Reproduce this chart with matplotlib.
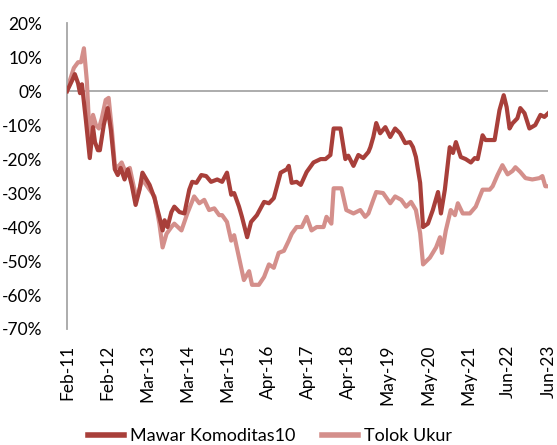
import matplotlib
matplotlib.use("Agg")
import matplotlib.pyplot as plt
import numpy as np

plt.rcParams['font.family'] = ['Lato', 'DejaVu Sans']

# months since Feb-2011 and cumulative return (%)
mawar_month = [0, 1.5, 2.4, 3.4, 4.0, 4.6, 5.8, 7.0, 8.0, 8.6, 9.5, 10.1, 11.3, 12.5, 13.5,
               14.7, 15.6, 16.5, 17.7, 18.7, 19.9, 21.1, 22.3, 23.2, 25.4, 26.9, 28.4, 29.4,
               30.0, 30.9, 32.1, 33.0, 34.6, 36.1, 37.6, 38.5, 39.8, 41.3, 42.8, 44.3, 46.2,
               47.7, 49.2, 50.5, 51.4, 52.9, 53.8, 55.4, 56.6, 58.4, 60.6, 62.1, 63.6, 65.7,
               67.6, 68.2, 69.1, 70.6, 71.9, 73.7, 75.8, 78.0, 79.5, 81.0, 82.0, 84.1, 85.6,
               86.5, 88.1, 89.6, 91.1, 92.7, 93.3, 94.2, 95.1, 96.3, 97.9, 99.4, 100.9, 102.4,
               104.0, 105.5, 106.4, 107.3, 108.6, 109.5, 111.0, 112.5, 114.1, 115.0, 116.2,
               117.7, 118.7, 119.6, 121.1, 122.6, 124.2, 125.4, 126.3, 127.8, 128.7, 130.3,
               131.5, 133.0, 134.3, 135.2, 136.1, 137.0, 138.5, 139.4, 140.7, 142.2, 144.0,
               145.6, 146.8, 148.0]
mawar_value = [0, 3, 5, 2.3, -0.6, 2, -8.5, -19.7, -10.6, -15, -17.4, -17.4, -10, -5, -11.5,
               -23, -24.7, -22.6, -26, -23, -27.6, -33.5, -29, -24, -27.6, -31.5, -37, -41,
               -38, -40, -35.6, -34, -35.6, -36, -29, -26.7, -27, -24.7, -25, -26.7, -26,
               -26.7, -24, -30.5, -30, -34, -37, -43, -38.5, -36.5, -32.6, -33, -31.5, -24,
               -23, -22, -27, -26.7, -27.6, -23.8, -21, -20, -20, -18.8, -11, -11, -20,
               -19, -22, -18.8, -19.7, -17.9, -16.5, -13.5, -9.4, -12.4, -10.6, -13.5, -11, -12.4,
               -15.3, -15, -16.5, -19.4, -27, -40, -39, -35, -29.7, -36, -29,
               -16.5, -18.2, -15, -19.4, -20, -21, -19.7, -20, -13, -14.4, -14.4,
               -14.4, -5.6, -1.2, -4.7, -11, -9.5, -8, -5, -6.5, -11, -10,
               -7, -7.6, -6.5]

tolok_month = [0, 0.9, 2.1, 3.4, 4.3, 5.2, 6.1, 7.0, 8.0, 8.9, 9.8, 10.7, 11.9, 12.8, 13.8,
               14.7, 15.6, 16.8, 18.0, 19.3, 20.5, 21.4, 23.2, 25.4, 26.9, 28.4, 29.4, 30.6,
               32.1, 33.0, 35.2, 37.0, 39.1, 40.7, 42.2, 43.7, 45.3, 46.8, 47.7, 49.2, 50.5,
               51.4, 52.9, 54.4, 56.0, 56.9, 59.0, 60.6, 62.1, 63.6, 65.1, 66.7, 68.2, 69.1,
               70.6, 72.2, 73.7, 75.2, 76.8, 78.9, 79.8, 81.3, 82.0, 84.4, 85.9, 88.1, 90.2,
               91.7, 92.7, 94.2, 95.1, 97.2, 99.4, 100.9, 102.8, 104.3, 105.8, 107.3, 108.6,
               109.5, 111.6, 113.5, 114.7, 115.3, 116.5, 118.0, 119.3, 120.2, 121.7, 123.9,
               125.7, 127.8, 130.0, 130.9, 132.4, 133.9, 135.5, 137.0, 137.9, 139.4, 141.0,
               143.1, 145.3, 146.2, 147.1, 148.0]
tolok_value = [0, 3.2, 6.8, 8.5, 8.5, 12.6, 3, -14.4, -7, -10, -11, -8, -2.6, -2, -11.5,
               -21.8, -22.4, -21, -23.8, -22.6, -28, -31.5, -26, -29, -31, -39, -46, -42,
               -40, -39, -41, -36, -31, -33, -32, -35, -34.5, -36.5, -36.5, -38.5, -44,
               -42.4, -49, -55.6, -53, -57, -57, -54.7, -51, -52, -47.6, -47, -44, -42,
               -40, -40, -37, -41, -40, -40, -37, -39, -28.6, -28.6, -35, -36, -35,
               -37, -36, -32, -29.7, -30, -33, -31, -32, -34, -32.6, -35, -41.8,
               -51, -49, -46, -43, -47.6, -41, -35, -36.5, -33, -36, -36,
               -34, -29, -29, -28, -24.7, -21.8, -24.5, -23.5, -22.4, -23.8, -25.6,
               -26, -25.6, -25, -28, -28]

tick_labels = ["Feb-11", "Feb-12", "Mar-13", "Mar-14", "Mar-15", "Apr-16", "Apr-17",
               "Apr-18", "May-19", "May-20", "May-21", "Jun-22", "Jun-23"]
y_ticks = [20, 10, 0, -10, -20, -30, -40, -50, -60, -70]

dark = "#A83F3A"
pink = "#D48F8B"

fig = plt.figure(figsize=(5.57, 4.45), dpi=100)
ax = fig.add_axes([0.1203, 0.2607, 0.8640, 0.6873])

ax.plot(mawar_month, mawar_value, color=dark, lw=3.0, solid_joinstyle='round',
        label="Mawar Komoditas10", zorder=3)
ax.plot(tolok_month, tolok_value, color=pink, lw=3.0, solid_joinstyle='round',
        label="Tolok Ukur", zorder=2)

ax.axhline(0, color="#A6A6A6", lw=1.3, zorder=1)
ax.set_xlim(0, 148)
ax.set_ylim(-70, 20)
ax.set_yticks(y_ticks)
ax.set_yticklabels([f"{v}%" for v in y_ticks], fontsize=12.5)
ax.set_xticks(np.linspace(0, 148, len(tick_labels)))
ax.set_xticklabels(tick_labels, rotation=90, fontsize=12.5)
ax.tick_params(axis='both', length=0)
ax.tick_params(axis='x', pad=11)
ax.tick_params(axis='y', pad=18)

for s in ["top", "right", "bottom"]:
    ax.spines[s].set_visible(False)
ax.spines["left"].set_color("#A6A6A6")
ax.spines["left"].set_linewidth(1.3)

leg = fig.legend(loc="lower center", bbox_to_anchor=(0.485, -0.035), ncol=2, frameon=False,
                 fontsize=13, handlelength=2.0, columnspacing=1.5, handletextpad=0.3)
for line in leg.get_lines():
    line.set_linewidth(4)

fig.savefig("out.png", dpi=100)
